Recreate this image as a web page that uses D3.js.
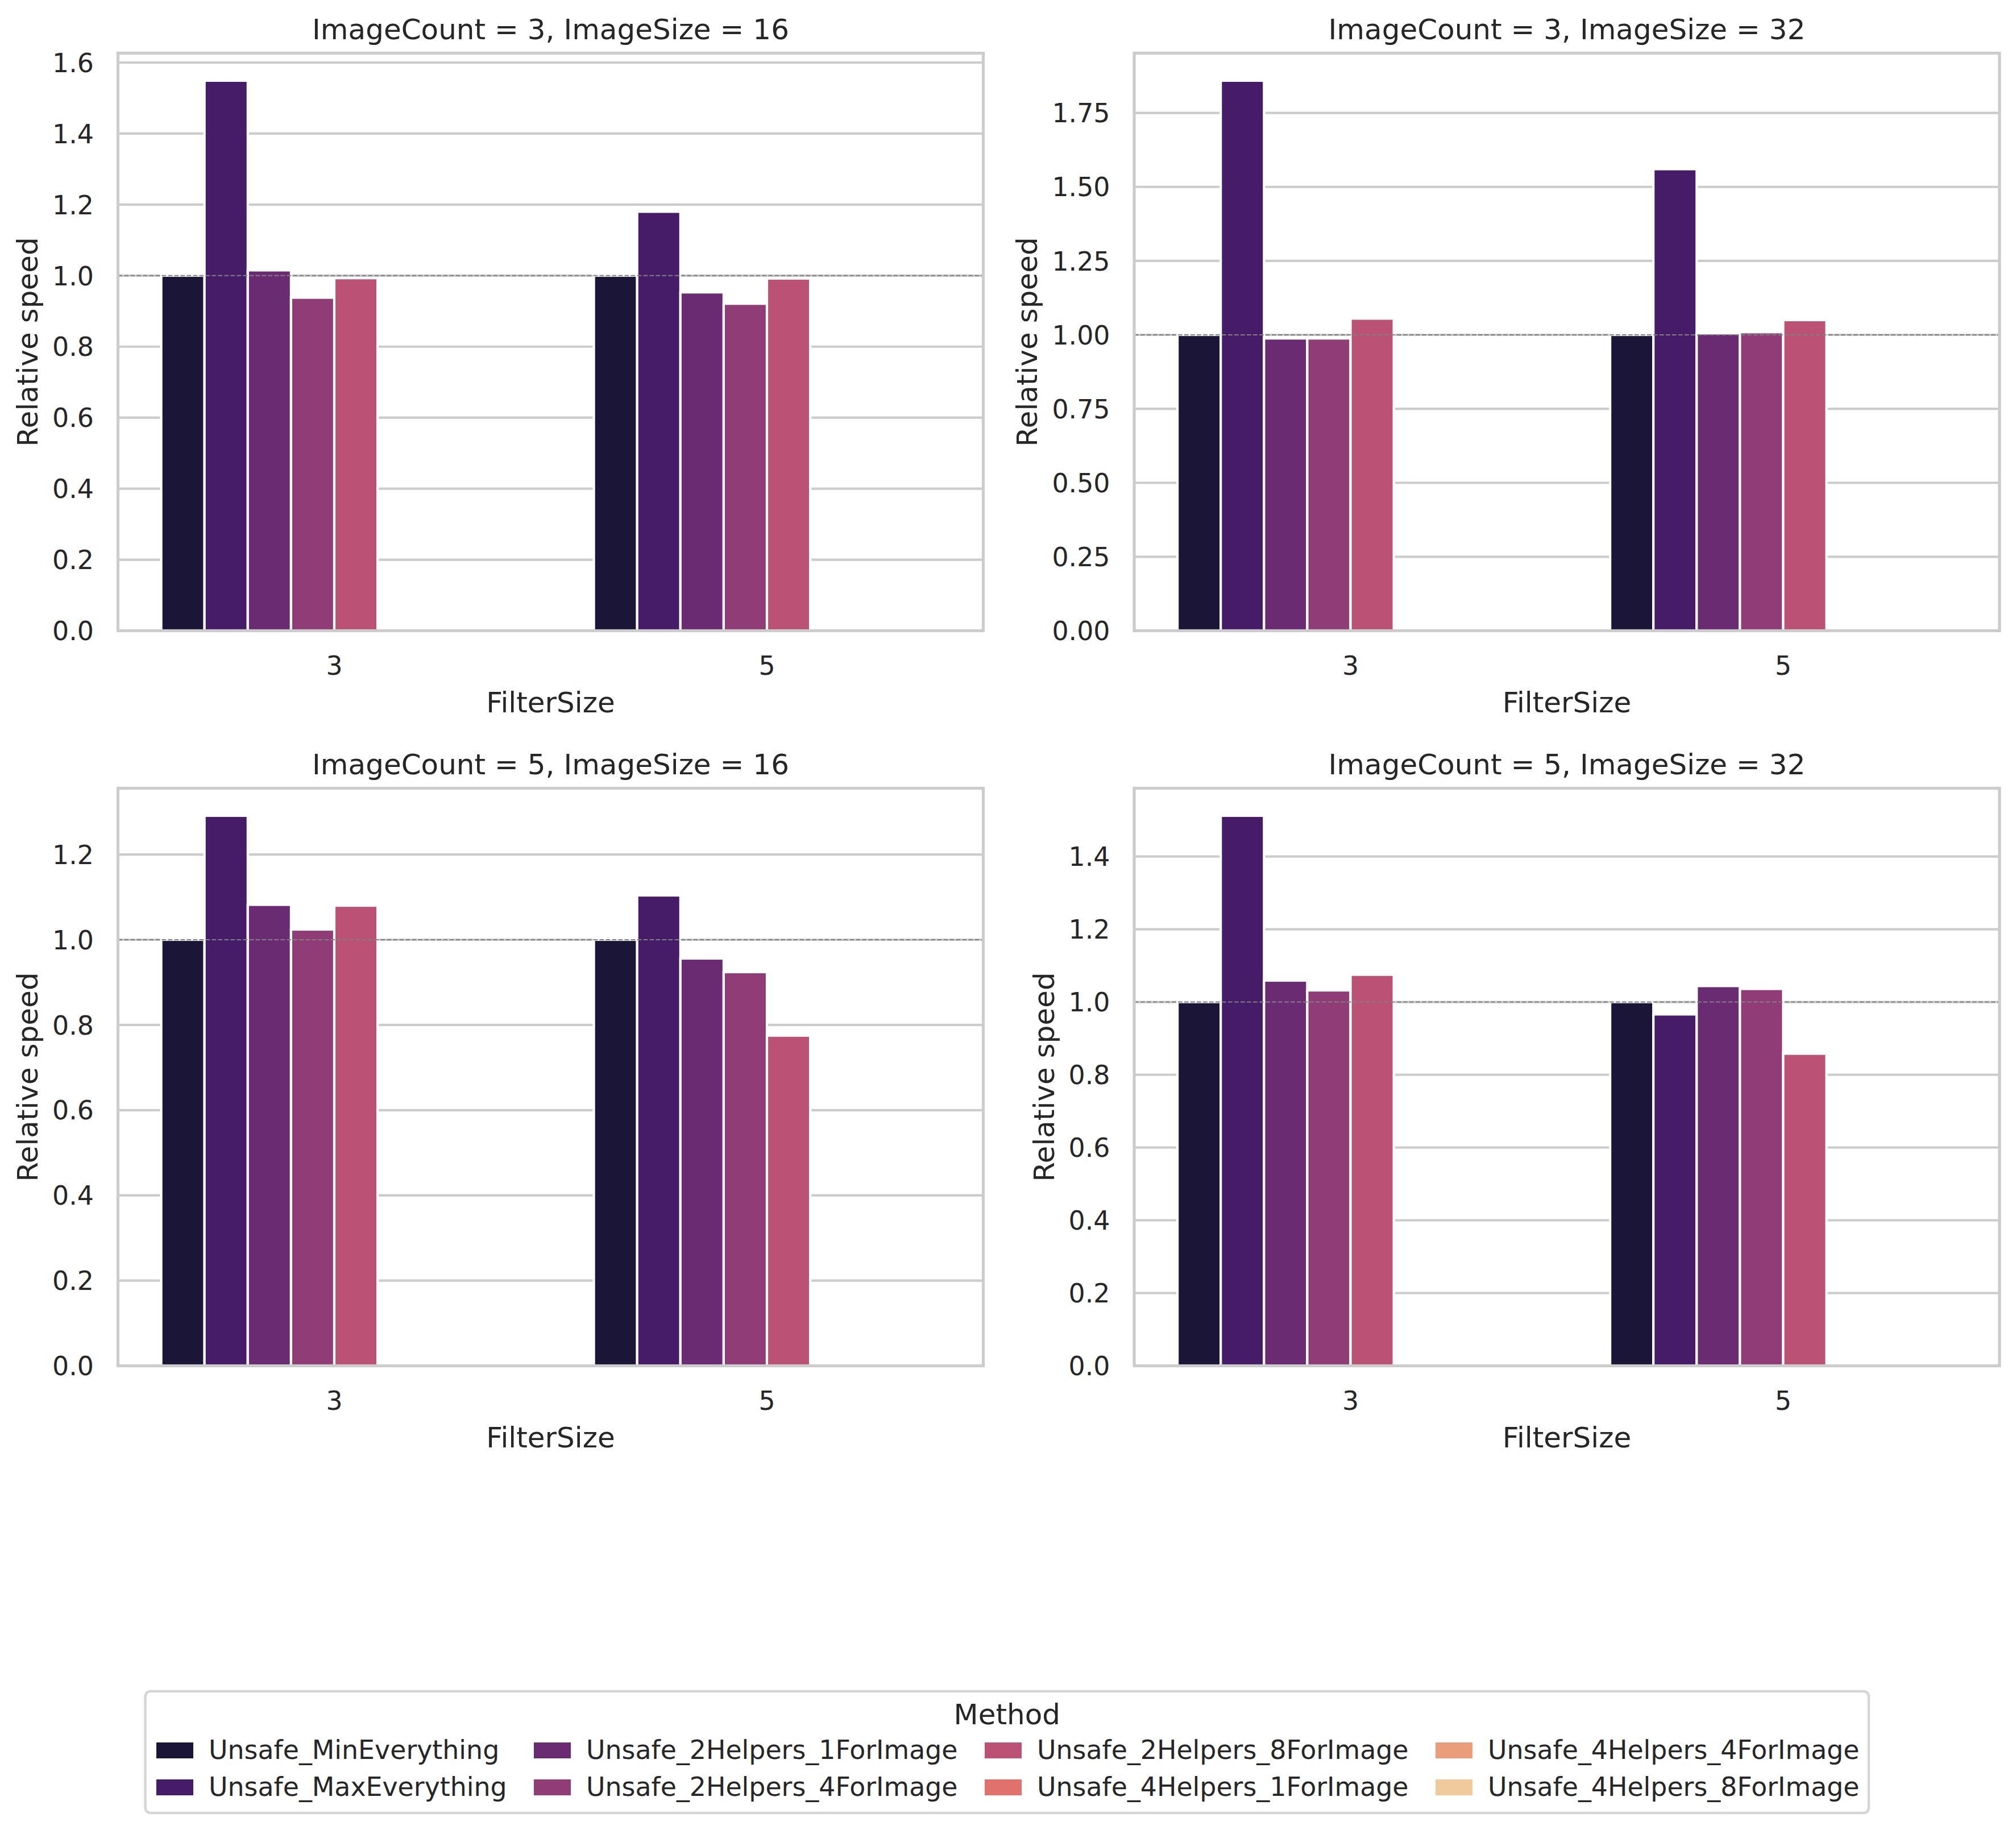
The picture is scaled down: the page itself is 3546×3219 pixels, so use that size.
<!DOCTYPE html>
<html><head><meta charset="utf-8">
<script src="https://cdn.jsdelivr.net/npm/d3@7"></script>
<style>html,body{margin:0;padding:0;background:#fff;}svg text{font-family:"DejaVu Sans",sans-serif;fill:#262626;}</style>
</head><body>
<script>
// ---------- DATA ----------
const methods = ["Unsafe_MinEverything","Unsafe_MaxEverything","Unsafe_2Helpers_1ForImage","Unsafe_2Helpers_4ForImage","Unsafe_2Helpers_8ForImage","Unsafe_4Helpers_1ForImage","Unsafe_4Helpers_4ForImage","Unsafe_4Helpers_8ForImage"];
const methodColors = ["#1b1638","#461b68","#6a2b73","#8f3c77","#bb5175","#e0716c","#eb9c7b","#f0c99d"];
const filterSizes = ["3","5"];
const panelTitles = ["ImageCount = 3, ImageSize = 16","ImageCount = 3, ImageSize = 32","ImageCount = 5, ImageSize = 16","ImageCount = 5, ImageSize = 32"];
// values per method (first 5 methods; the 4Helpers methods have no data)
const ic3is16_f3 = [1.000, 1.549, 1.015, 0.938, 0.993];
const ic3is16_f5 = [1.000, 1.180, 0.953, 0.921, 0.992];
const ic3is32_f3 = [1.000, 1.859, 0.988, 0.988, 1.055];
const ic3is32_f5 = [1.000, 1.560, 1.005, 1.009, 1.050];
const ic5is16_f3 = [1.000, 1.291, 1.082, 1.024, 1.080];
const ic5is16_f5 = [1.000, 1.104, 0.956, 0.924, 0.775];
const ic5is32_f3 = [1.000, 1.512, 1.059, 1.032, 1.075];
const ic5is32_f5 = [1.000, 0.966, 1.044, 1.036, 0.858];
const ticksA = [0.0,0.2,0.4,0.6,0.8,1.0,1.2,1.4,1.6];
const ticksB = [0.00,0.25,0.50,0.75,1.00,1.25,1.50,1.75];
const ticksC = [0.0,0.2,0.4,0.6,0.8,1.0,1.2];
const ticksD = [0.0,0.2,0.4,0.6,0.8,1.0,1.2,1.4];
const tickDecimals = [1,2,1,1];
const referenceLine = 1.0;
const xLabel = "FilterSize", yLabel = "Relative speed", legendTitle = "Method";

const panelData = [[ic3is16_f3,ic3is16_f5],[ic3is32_f3,ic3is32_f5],[ic5is16_f3,ic5is16_f5],[ic5is32_f3,ic5is32_f5]];
const panelTicks = [ticksA,ticksB,ticksC,ticksD];

// ---------- LAYOUT ----------
const W = 3546, H = 3219;
const svg = d3.select("body").append("svg").attr("width",W).attr("height",H);
const colX = [207.5, 1995], rowY = [93.5, 1386.5], pw = 1522, ph = 1016;
const tickFs = 45.83, labFs = 50;
const grid = "#cccccc";

panelData.forEach((pd, pi) => {
  const x0 = colX[pi%2], y0 = rowY[Math.floor(pi/2)];
  const g = svg.append("g").attr("transform",`translate(${x0},${y0})`);
  const rows = [];
  filterSizes.forEach((fs, fi) => methods.forEach((m, mi) => {
    const v = pd[fi][mi];
    if (v !== undefined && v !== null) rows.push({fs, m, mi, v});
  }));
  const maxV = d3.max(rows, d => d.v);
  const y = d3.scaleLinear().domain([0, maxV*1.05]).range([ph, 0]);
  const x = d3.scaleBand().domain(filterSizes).range([0, pw]).padding(0);
  const xh = d3.scaleBand().domain(methods).range([0, x.bandwidth()]).paddingInner(0).paddingOuter(1);

  const ticks = panelTicks[pi];
  const fmt = d3.format(`.${tickDecimals[pi]}f`);
  g.append("g").selectAll("line").data(ticks).join("line")
    .attr("x1",0).attr("x2",pw).attr("y1",d=>y(d)).attr("y2",d=>y(d))
    .attr("stroke",grid).attr("stroke-width",4.17);
  g.append("g").selectAll("rect").data(rows).join("rect")
    .attr("x", d => x(d.fs) + xh(d.m)).attr("width", xh.bandwidth())
    .attr("y", d => y(d.v)).attr("height", d => y(0) - y(d.v))
    .attr("fill", d => methodColors[d.mi]).attr("stroke","#ffffff").attr("stroke-width",4.17);
  g.append("line").attr("x1",0).attr("x2",pw).attr("y1",y(referenceLine)).attr("y2",y(referenceLine))
    .attr("stroke","#808080").attr("stroke-width",2).attr("stroke-dasharray","7.7,3.3");
  g.append("rect").attr("x",0).attr("y",0).attr("width",pw).attr("height",ph)
    .attr("fill","none").attr("stroke",grid).attr("stroke-width",5.2);
  const tl = g.append("g").selectAll("text").data(ticks).join("text")
    .attr("x",-42.5).attr("y",d=>y(d)+16.7).attr("text-anchor","end")
    .attr("font-size",tickFs).text(d=>fmt(d));
  let maxTW = 0; tl.each(function(){ maxTW = Math.max(maxTW, this.getComputedTextLength()); });
  g.append("g").selectAll("text").data(filterSizes).join("text")
    .attr("x",d=>x(d)+x.bandwidth()/2).attr("y",ph+77.5).attr("text-anchor","middle")
    .attr("font-size",tickFs).text(d=>d);
  g.append("text").attr("x",pw/2).attr("y",ph+143.5).attr("text-anchor","middle")
    .attr("font-size",labFs).text(xLabel);
  const ylx = -42.5 - maxTW - 26;
  g.append("text").attr("transform",`translate(${ylx},${ph/2}) rotate(-90)`)
    .attr("text-anchor","middle").attr("font-size",labFs).text(yLabel);
  g.append("text").attr("x",pw/2).attr("y",-25).attr("text-anchor","middle")
    .attr("font-size",labFs).text(panelTitles[pi]);
});

// ---------- LEGEND ----------
const leg = svg.append("g");
const boxL = 255.6, boxR = 3287, boxT = 2975, boxB = 3189;
const colStart = [275, 939, 1732, 2525];
const patchW = 65, patchH = 28, textOff = 92;
const rowBase = [3094, 3159];
leg.append("rect").attr("x",boxL).attr("y",boxT).attr("width",boxR-boxL).attr("height",boxB-boxT).attr("rx",9).attr("ry",9)
  .attr("fill","#ffffff").attr("stroke","#d6d6d6").attr("stroke-width",4.5);
leg.append("text").attr("x",(boxL+boxR)/2).attr("y",3033).attr("text-anchor","middle").attr("font-size",labFs).text(legendTitle);
const items = leg.selectAll("g.item").data(methods).join("g").attr("class","item");
items.each(function(d,i){
  const c = Math.floor(i/2), r = i%2;
  const gi = d3.select(this);
  gi.append("rect").attr("x",colStart[c]).attr("y",rowBase[r]-29).attr("width",patchW).attr("height",patchH)
    .attr("fill",methodColors[i]);
  gi.append("text").attr("x",colStart[c]+textOff).attr("y",rowBase[r]).attr("font-size",tickFs).text(d);
});
</script>
</body></html>
